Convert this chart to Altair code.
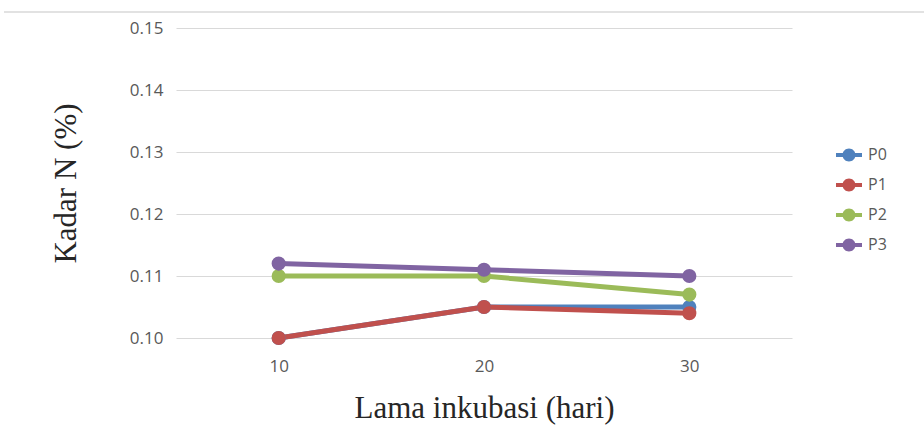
import altair as alt
import pandas as pd

# Incubation days and nitrogen content per treatment
days = [10, 20, 30]
treatments = ["P0", "P1", "P2", "P3"]
p0 = [0.100, 0.105, 0.105]
p1 = [0.100, 0.105, 0.104]
p2 = [0.110, 0.110, 0.107]
p3 = [0.112, 0.111, 0.110]
colors = ["#4F81BD", "#C0504D", "#9BBB59", "#8064A2"]
y_ticks = [0.10, 0.11, 0.12, 0.13, 0.14, 0.15]

rows = []
for name, vals in zip(treatments, [p0, p1, p2, p3]):
    for d, v in zip(days, vals):
        rows.append({"hari": d, "kadar": v, "perlakuan": name})
df = pd.DataFrame(rows)

# legend glyph: a short bar with a dot in the middle
glyph = ("M-1,-0.16 L1,-0.16 L1,0.16 L-1,0.16 Z "
         "M0.5,0 A0.5,0.5 0 1,1 -0.5,0 A0.5,0.5 0 1,1 0.5,0 Z")

x = alt.X(
    "hari:Q",
    scale=alt.Scale(domain=[5, 35], nice=False, zero=False),
    axis=alt.Axis(
        values=days, title="Lama inkubasi (hari)", grid=False,
        domain=False, ticks=False, labelPadding=20, titlePadding=19,
    ),
)
y = alt.Y(
    "kadar:Q",
    scale=alt.Scale(domain=[0.10, 0.15], nice=False, zero=False),
    axis=alt.Axis(
        values=y_ticks, format=".2f", title="Kadar N (%)",
        domain=False, ticks=False, labelPadding=13, titlePadding=47,
    ),
)

lines = alt.Chart(df).mark_line(strokeWidth=5).encode(
    x=x, y=y,
    color=alt.Color("perlakuan:N", scale=alt.Scale(domain=treatments, range=colors), legend=None),
    detail="perlakuan:N",
)

points = alt.Chart(df).mark_point(filled=True, size=200, opacity=1).encode(
    x=x, y=y,
    color=alt.Color(
        "perlakuan:N",
        scale=alt.Scale(domain=treatments, range=colors),
        legend=alt.Legend(
            title=None, orient="none", legendX=660, legendY=114,
            symbolType=glyph, symbolSize=676, symbolStrokeWidth=0,
            symbolOpacity=1, labelFontSize=16, labelColor="#595959",
            labelFont="Open Sans", rowPadding=9, labelOffset=6,
        ),
    ),
)

# thin frame line across the top of the figure
frame = alt.Chart(pd.DataFrame({"k": [0]})).mark_rule(
    color="#d9d9d9", strokeWidth=1.5, clip=False
).encode(x=alt.value(-172), x2=alt.value(748), y=alt.value(-16))

chart = alt.layer(frame, lines, points).resolve_scale(
    color="independent"
).resolve_legend(color="independent").properties(
    width=616, height=310,
    autosize=alt.AutoSizeParams(type="none"),
    padding={"left": 176, "top": 28, "right": 132, "bottom": 91},
).configure_view(stroke=None).configure_axis(
    gridColor="#d9d9d9", gridWidth=1.2,
    labelFont="Open Sans", labelFontSize=17, labelColor="#595959",
    titleFont="Liberation Serif", titleFontSize=31, titleFontWeight="normal",
    titleColor="#262626",
)

chart.save("out.html", embed_options={"renderer": "svg", "actions": False})
